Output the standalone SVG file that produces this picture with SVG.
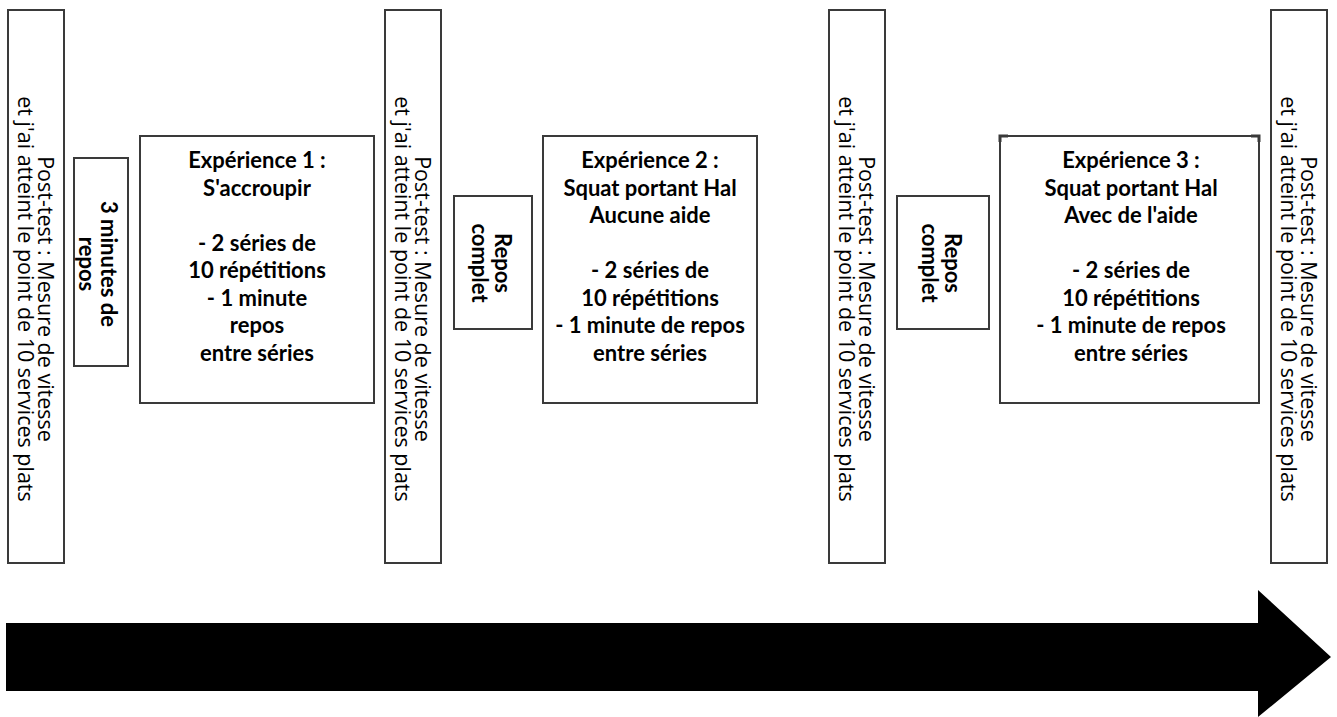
<svg xmlns="http://www.w3.org/2000/svg" width="1337" height="717" viewBox="0 0 1337 717">
<style>
.box{fill:#fff;stroke:#3a3a3a;stroke-width:2}
.pt{font-family:"Open Sans","Noto Sans",sans-serif;font-size:21.5px;font-weight:500;fill:#000;text-anchor:middle;dominant-baseline:central}
.rb{font-family:Lato,"Open Sans",sans-serif;font-weight:700;font-size:22px;fill:#000;text-anchor:middle;dominant-baseline:central}
.ex{font-family:Lato,"Open Sans",sans-serif;font-weight:700;font-size:22px;fill:#000;text-anchor:middle}
.tick{fill:none;stroke:#3a3a3a;stroke-width:3}
</style>
<rect width="1337" height="717" fill="#fff"/>
<g id="posttest1">
<rect class="box" x="8" y="10" width="56" height="553"/>
<text class="pt" transform="translate(37,299) rotate(90)"><tspan x="0" y="-10">Post-test : Mesure de vitesse</tspan><tspan x="0" y="10">et j'ai atteint le point de 10 services plats</tspan></text>
</g>
<g id="repos3min">
<rect class="box" x="74" y="158" width="54" height="208"/>
<text class="rb" transform="translate(99,264) rotate(90)"><tspan x="0" y="-11">3 minutes de</tspan><tspan x="0" y="11">repos</tspan></text>
</g>
<g id="exp1">
<rect class="box" x="140" y="136" width="234" height="267"/>
<text class="ex"><tspan x="257" y="168">Expérience 1 :</tspan><tspan x="257" y="195.5">S'accroupir</tspan><tspan x="257" y="250.5">- 2 séries de</tspan><tspan x="257" y="278">10 répétitions</tspan><tspan x="257" y="305.5">- 1 minute</tspan><tspan x="257" y="333">repos</tspan><tspan x="257" y="360.5">entre séries</tspan></text>
</g>
<g id="posttest2">
<rect class="box" x="385" y="10" width="56" height="553"/>
<text class="pt" transform="translate(414,299) rotate(90)"><tspan x="0" y="-10">Post-test : Mesure de vitesse</tspan><tspan x="0" y="10">et j'ai atteint le point de 10 services plats</tspan></text>
</g>
<g id="repos1">
<rect class="box" x="454" y="196" width="78" height="133"/>
<text class="rb" transform="translate(492,263) rotate(90)"><tspan x="0" y="-12">Repos</tspan><tspan x="0" y="11">complet</tspan></text>
</g>
<g id="exp2">
<rect class="box" x="543" y="136" width="214" height="267"/>
<text class="ex"><tspan x="650" y="168">Expérience 2 :</tspan><tspan x="650" y="195.5">Squat portant Hal</tspan><tspan x="650" y="223">Aucune aide</tspan><tspan x="650" y="278">- 2 séries de</tspan><tspan x="650" y="305.5">10 répétitions</tspan><tspan x="650" y="333">- 1 minute de repos</tspan><tspan x="650" y="360.5">entre séries</tspan></text>
</g>
<g id="posttest3">
<rect class="box" x="829" y="10" width="56" height="553"/>
<text class="pt" transform="translate(858,299) rotate(90)"><tspan x="0" y="-10">Post-test : Mesure de vitesse</tspan><tspan x="0" y="10">et j'ai atteint le point de 10 services plats</tspan></text>
</g>
<g id="repos2">
<rect class="box" x="897" y="196" width="92" height="133"/>
<text class="rb" transform="translate(942,263) rotate(90)"><tspan x="0" y="-12">Repos</tspan><tspan x="0" y="11">complet</tspan></text>
</g>
<g id="exp3">
<rect class="box" x="1000" y="136" width="259" height="267"/>
<path class="tick" d="M1000,142 V136 H1008 M1251,136 H1259 V142"/>
<text class="ex"><tspan x="1131" y="168">Expérience 3 :</tspan><tspan x="1131" y="195.5">Squat portant Hal</tspan><tspan x="1131" y="223">Avec de l'aide</tspan><tspan x="1131" y="278">- 2 séries de</tspan><tspan x="1131" y="305.5">10 répétitions</tspan><tspan x="1131" y="333">- 1 minute de repos</tspan><tspan x="1131" y="360.5">entre séries</tspan></text>
</g>
<g id="posttest4">
<rect class="box" x="1271" y="10" width="56" height="553"/>
<text class="pt" transform="translate(1300,299) rotate(90)"><tspan x="0" y="-10">Post-test : Mesure de vitesse</tspan><tspan x="0" y="10">et j'ai atteint le point de 10 services plats</tspan></text>
</g>
<g id="connectors">
<path d="M6,623 H1258 V590 L1331,657 L1258,717 V691 H6 Z" fill="#000"/>
</g>
</svg>
